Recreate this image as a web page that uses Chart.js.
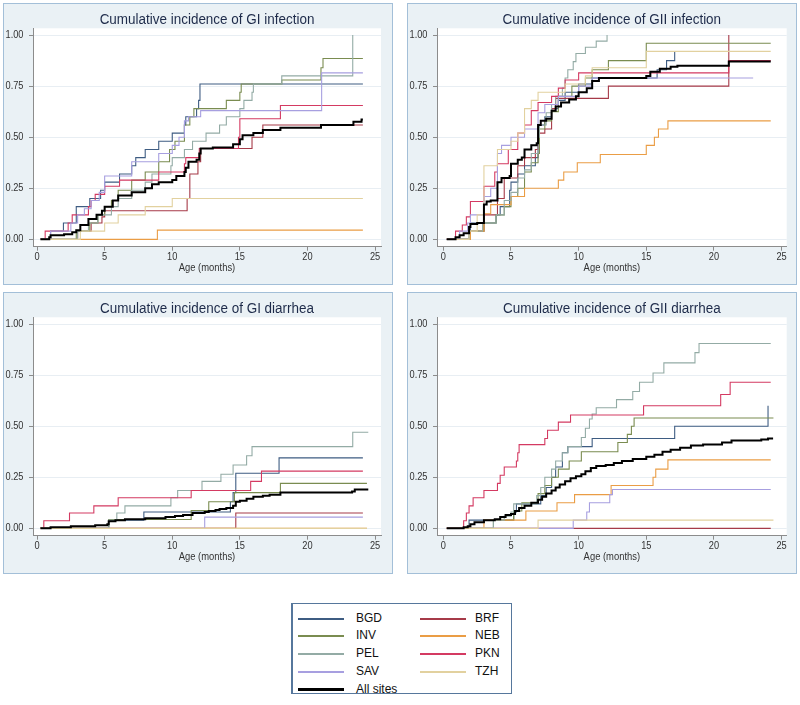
<!DOCTYPE html>
<html>
<head>
<meta charset="utf-8">
<script src="https://cdn.jsdelivr.net/npm/chart.js@4.4.1/dist/chart.umd.min.js"></script>
<style>
body { margin: 0; background: #fff; width: 800px; height: 705px; position: relative; overflow: hidden;
       font-family: "Liberation Sans", Arial, Helvetica, sans-serif; }
.panel { position: absolute; box-sizing: border-box; width: 390px; height: 282px;
         background: #eaf1f5; border: 1.5px solid #a3bfd8; }
canvas.plot { position: absolute; }
#legend { position: absolute; left: 291px; top: 603px; width: 221px; height: 91px; box-sizing: border-box;
          border: 1.5px solid #56779c; border-left-width: 2px; background: #fff; }
.lg-line { position: absolute; width: 46px; }
.lg-text { position: absolute; font-size: 12px; line-height: 14px; color: #111; }
</style>
</head>
<body>
<div id="legend"></div>
<script>
// Kaplan-Meier style cumulative incidence, 4 panels + shared legend

const ageTicks = [0, 5, 10, 15, 20, 25];
const incTicks = [0, 0.25, 0.5, 0.75, 1];
const ageAxisTitle = 'Age (months)';

const sites = ['BGD', 'BRF', 'INV', 'NEB', 'PEL', 'PKN', 'SAV', 'TZH', 'All sites'];
const siteColors = ['#3e5c82', '#a63a48', '#7a8c50', '#ea9d45', '#93aba5', '#d43a62', '#a79fe0', '#e2d19f', '#000000'];

const panelTitles = [
    'Cumulative incidence of GI infection',
    'Cumulative incidence of GII infection',
    'Cumulative incidence of GI diarrhea',
    'Cumulative incidence of GII diarrhea'
];

// each pair: [age in months, cumulative incidence from that age on]

// GI infection
const giInfBGD = [[0.25,0],[1.0,0.04],[1.95,0.08],[2.9,0.16],[3.9,0.20],[4.7,0.24],[5.0,0.28],[6.1,0.32],[7.0,0.36],[7.3,0.40],[8.0,0.44],[9.0,0.48],[10.0,0.52],[10.9,0.56],[11.0,0.60],[11.8,0.64],[11.95,0.68],[12.05,0.76],[24.1,0.76]];
const giInfBRF = [[0.25,0],[3.0,0.04],[4.0,0.08],[4.8,0.11],[5.0,0.14],[11.1,0.20],[11.3,0.32],[11.9,0.38],[12.1,0.445],[15.9,0.50],[16.7,0.56],[24.1,0.56]];
const giInfINV = [[0.25,0],[2.9,0.04],[3.9,0.08],[4.5,0.12],[5.0,0.16],[5.5,0.19],[6.0,0.24],[7.0,0.29],[8.0,0.33],[9.0,0.38],[9.8,0.44],[10.2,0.48],[10.9,0.56],[11.3,0.60],[11.6,0.64],[14.0,0.68],[15.0,0.72],[15.1,0.76],[18.1,0.78],[21.0,0.84],[21.15,0.885],[24.1,0.885]];
const giInfNEB = [[3.1,0],[8.9,0.045],[24.1,0.045]];
const giInfPEL = [[0.25,0],[3.0,0.04],[3.8,0.08],[4.5,0.12],[5.5,0.16],[6.0,0.20],[7.0,0.24],[8.0,0.28],[8.5,0.32],[9.9,0.36],[10.0,0.40],[10.9,0.44],[11.5,0.48],[12.5,0.52],[13.5,0.56],[14.0,0.60],[15.0,0.64],[15.3,0.68],[15.9,0.72],[16.0,0.76],[18.1,0.80],[23.35,1.0]];
const giInfPKN = [[0.25,0],[0.6,0.04],[2.3,0.08],[2.6,0.12],[3.8,0.16],[4.0,0.19],[4.3,0.22],[5.0,0.26],[6.1,0.29],[9.0,0.33],[10.9,0.37],[11.0,0.40],[12.0,0.445],[14.9,0.50],[15.0,0.59],[18.0,0.655],[24.1,0.655]];
const giInfSAV = [[0.25,0],[1.0,0.04],[2.5,0.08],[3.0,0.12],[3.5,0.15],[4.0,0.19],[4.6,0.23],[5.0,0.31],[7.0,0.38],[9.0,0.42],[10.0,0.46],[10.5,0.50],[10.9,0.58],[11.2,0.60],[12.1,0.63],[21.05,0.815],[24.1,0.815]];
const giInfTZH = [[0.25,0],[3.2,0.04],[5.0,0.08],[6.0,0.12],[8.0,0.16],[10.0,0.20],[24.1,0.20]];
const giInfAll = [[0.25,0],[0.9,0.01],[1.0,0.02],[2.0,0.025],[2.6,0.035],[2.9,0.045],[3.2,0.07],[3.8,0.10],[4.4,0.12],[4.8,0.14],[5.0,0.16],[5.6,0.19],[6.0,0.215],[7.0,0.23],[8.0,0.25],[8.5,0.27],[9.0,0.28],[10.0,0.29],[10.3,0.31],[10.9,0.33],[11.0,0.35],[11.2,0.38],[11.8,0.39],[12.0,0.42],[12.1,0.445],[13.0,0.45],[14.5,0.465],[15.0,0.49],[15.2,0.51],[16.0,0.52],[16.7,0.535],[18.0,0.546],[21.0,0.56],[23.4,0.576],[24.0,0.587],[24.1,0.587]];

// GII infection
const giiInfBGD = [[0.25,0],[1.9,0.04],[2.0,0.08],[3.9,0.12],[4.2,0.16],[4.9,0.24],[5.0,0.28],[5.5,0.32],[6.0,0.36],[6.8,0.40],[7.0,0.48],[7.1,0.56],[7.5,0.60],[8.0,0.64],[8.5,0.68],[9.0,0.72],[10.0,0.76],[11.0,0.79],[15.8,0.83],[16.5,0.875],[17.1,0.92]];
const giiInfBRF = [[0.25,0],[2.0,0.04],[3.0,0.12],[4.0,0.20],[4.5,0.30],[5.5,0.36],[6.0,0.40],[6.8,0.44],[7.0,0.52],[7.5,0.54],[8.0,0.64],[8.3,0.69],[12.2,0.75],[21.1,1.0]];
const giiInfINV = [[0.25,0],[2.0,0.04],[3.0,0.08],[3.9,0.12],[4.5,0.16],[5.0,0.21],[5.5,0.25],[6.0,0.33],[6.5,0.375],[7.0,0.42],[7.1,0.54],[7.5,0.58],[8.0,0.625],[8.5,0.70],[9.5,0.75],[10.5,0.79],[11.0,0.83],[12.2,0.875],[15.0,0.96],[24.2,0.96]];
const giiInfNEB = [[1.8,0],[2.0,0.04],[3.0,0.125],[3.5,0.17],[5.0,0.21],[6.0,0.25],[8.5,0.29],[8.9,0.33],[9.9,0.375],[11.6,0.415],[15.0,0.46],[15.6,0.50],[15.9,0.54],[16.6,0.58],[24.2,0.58]];
const giiInfPEL = [[0.25,0],[1.9,0.04],[2.9,0.08],[3.9,0.12],[4.5,0.19],[5.0,0.23],[5.5,0.30],[6.0,0.34],[6.5,0.42],[7.0,0.50],[7.1,0.56],[7.6,0.62],[8.0,0.66],[8.3,0.70],[8.8,0.74],[9.0,0.79],[9.2,0.83],[9.6,0.87],[9.8,0.91],[10.5,0.94],[11.3,0.97],[12.1,1.0]];
const giiInfPKN = [[0.25,0],[0.9,0.04],[1.4,0.07],[1.7,0.11],[2.0,0.185],[3.0,0.26],[3.8,0.33],[4.0,0.37],[4.8,0.44],[5.5,0.52],[6.0,0.56],[6.5,0.63],[7.0,0.67],[8.0,0.70],[8.5,0.74],[9.0,0.78],[10.0,0.815],[21.1,0.875],[24.2,0.875]];
const giiInfSAV = [[0.25,0],[1.2,0.04],[1.8,0.08],[2.0,0.12],[3.0,0.21],[3.5,0.25],[4.0,0.42],[4.3,0.46],[5.0,0.50],[6.0,0.54],[7.0,0.62],[7.5,0.66],[8.5,0.70],[10.0,0.75],[11.0,0.79],[22.9,0.79]];
const giiInfTZH = [[0.25,0],[1.9,0.04],[2.5,0.12],[3.0,0.36],[4.0,0.44],[5.0,0.48],[5.5,0.52],[6.0,0.64],[6.5,0.68],[7.0,0.72],[9.0,0.76],[10.5,0.80],[11.0,0.84],[15.0,0.92],[24.2,0.92]];
const giiInfAll = [[0.25,0],[0.9,0.01],[1.2,0.02],[1.5,0.03],[1.9,0.06],[2.0,0.075],[2.5,0.08],[3.0,0.17],[3.2,0.185],[3.5,0.19],[4.0,0.28],[4.3,0.30],[4.9,0.31],[5.0,0.37],[5.5,0.39],[5.8,0.40],[6.0,0.44],[6.5,0.46],[6.9,0.47],[7.0,0.56],[7.2,0.58],[7.6,0.59],[8.0,0.63],[8.3,0.65],[8.7,0.67],[9.3,0.685],[9.8,0.70],[10.0,0.72],[10.6,0.74],[11.0,0.775],[11.5,0.79],[15.0,0.80],[15.3,0.82],[16.0,0.835],[16.8,0.845],[17.3,0.85],[21.1,0.87],[24.2,0.87]];

// GI diarrhea
const giDiaBGD = [[0.25,0],[5.3,0.04],[7.9,0.08],[14.3,0.13],[14.5,0.175],[14.7,0.27],[17.9,0.345],[24.1,0.345]];
const giDiaBRF = [[0.25,0],[14.7,0.075],[24.1,0.075]];
const giDiaINV = [[0.25,0],[5.3,0.043],[11.4,0.087],[12.7,0.13],[14.6,0.175],[18.0,0.22],[24.4,0.22]];
const giDiaNEB = [[0.25,0],[24.4,0]];
const giDiaPEL = [[0.25,0],[5.3,0.04],[5.9,0.075],[6.5,0.11],[9.9,0.15],[10.4,0.185],[12.2,0.23],[13.6,0.265],[14.5,0.31],[15.5,0.355],[15.9,0.40],[23.35,0.47],[24.5,0.47]];
const giDiaPKN = [[0.25,0],[0.5,0.037],[2.4,0.075],[4.2,0.11],[6.0,0.15],[11.4,0.185],[15.8,0.23],[16.6,0.28],[24.1,0.28]];
const giDiaSAV = [[0.25,0],[12.4,0.055],[24.1,0.055]];
const giDiaTZH = [[0.25,0],[24.4,0]];
const giDiaAll = [[0.25,0],[1.0,0.005],[2.5,0.01],[4.3,0.015],[5.2,0.02],[5.3,0.035],[5.8,0.04],[6.5,0.045],[8.0,0.05],[9.5,0.055],[10.2,0.06],[10.8,0.065],[11.5,0.075],[12.4,0.08],[12.7,0.085],[13.2,0.09],[13.5,0.095],[14.0,0.10],[14.5,0.11],[14.7,0.13],[15.0,0.135],[15.5,0.145],[16.0,0.155],[16.7,0.16],[17.2,0.165],[18.0,0.175],[23.3,0.18],[23.5,0.19],[24.5,0.19]];

// GII diarrhea
const giiDiaBGD = [[0.25,0],[1.9,0.04],[5.2,0.08],[5.4,0.12],[7.2,0.16],[7.6,0.20],[8.0,0.25],[8.3,0.30],[8.8,0.37],[9.2,0.40],[11.0,0.44],[17.1,0.50],[24.0,0.60]];
const giiDiaBRF = [[0.25,0],[24.2,0]];
const giiDiaINV = [[0.25,0],[3.7,0.04],[5.2,0.085],[5.8,0.125],[7.0,0.17],[7.5,0.21],[8.0,0.25],[8.5,0.29],[9.3,0.33],[10.2,0.375],[12.9,0.42],[13.6,0.46],[13.9,0.50],[14.1,0.54],[24.4,0.54]];
const giiDiaNEB = [[0.25,0],[3.0,0.04],[6.1,0.085],[8.4,0.125],[9.7,0.165],[12.4,0.21],[15.5,0.25],[15.7,0.29],[16.6,0.335],[24.2,0.335]];
const giiDiaPEL = [[0.25,0],[3.7,0.04],[4.5,0.06],[5.0,0.08],[5.2,0.12],[6.9,0.16],[7.2,0.20],[7.5,0.25],[8.0,0.29],[8.3,0.33],[8.8,0.37],[9.2,0.40],[10.2,0.445],[10.5,0.49],[10.8,0.535],[11.0,0.56],[11.3,0.59],[12.8,0.63],[14.0,0.67],[14.5,0.715],[15.5,0.76],[16.3,0.81],[18.6,0.86],[18.9,0.905],[24.2,0.905]];
const giiDiaPKN = [[0.25,0],[1.5,0.037],[1.7,0.075],[1.9,0.11],[2.2,0.15],[3.0,0.185],[4.0,0.22],[4.2,0.26],[4.5,0.30],[5.4,0.33],[5.5,0.37],[5.6,0.41],[7.5,0.44],[7.7,0.48],[8.5,0.52],[9.4,0.555],[14.8,0.60],[20.5,0.655],[21.2,0.715],[24.2,0.715]];
const giiDiaSAV = [[0.25,0],[9.6,0.04],[10.6,0.08],[10.8,0.125],[12.3,0.165],[12.5,0.19],[24.2,0.19]];
const giiDiaTZH = [[0.25,0],[7.0,0.04],[24.4,0.04]];
const giiDiaAll = [[0.25,0],[1.5,0.005],[1.8,0.01],[2.0,0.02],[2.3,0.03],[3.0,0.04],[3.8,0.045],[4.2,0.055],[4.6,0.065],[5.0,0.07],[5.3,0.085],[5.6,0.10],[6.0,0.11],[6.5,0.125],[7.0,0.14],[7.3,0.155],[7.6,0.17],[8.0,0.185],[8.3,0.20],[8.6,0.215],[9.0,0.23],[9.4,0.245],[9.8,0.255],[10.2,0.265],[10.5,0.28],[10.9,0.295],[11.3,0.305],[12.0,0.31],[12.6,0.32],[13.2,0.33],[14.0,0.34],[15.0,0.35],[15.6,0.36],[16.2,0.375],[16.8,0.385],[17.5,0.395],[18.3,0.405],[19.2,0.41],[20.6,0.42],[21.3,0.43],[23.5,0.435],[24.0,0.44],[24.3,0.445]];

const panels = [
    { title: panelTitles[0], left: 3,   top: 3,   xMin: -0.30, xMax: 25.44, padRight: 12,
      series: [giInfBGD, giInfBRF, giInfINV, giInfNEB, giInfPEL, giInfPKN, giInfSAV, giInfTZH, giInfAll] },
    { title: panelTitles[1], left: 407, top: 3,   xMin: -0.47, xMax: 25.38, padRight: 10.3,
      series: [giiInfBGD, giiInfBRF, giiInfINV, giiInfNEB, giiInfPEL, giiInfPKN, giiInfSAV, giiInfTZH, giiInfAll] },
    { title: panelTitles[2], left: 3,   top: 292, xMin: -0.30, xMax: 25.44, padRight: 12,
      series: [giDiaBGD, giDiaBRF, giDiaINV, giDiaNEB, giDiaPEL, giDiaPKN, giDiaSAV, giDiaTZH, giDiaAll] },
    { title: panelTitles[3], left: 407, top: 292, xMin: -0.47, xMax: 25.38, padRight: 10.3,
      series: [giiDiaBGD, giiDiaBRF, giiDiaINV, giiDiaNEB, giiDiaPEL, giiDiaPKN, giiDiaSAV, giiDiaTZH, giiDiaAll] }
];

const FONT = '"Liberation Sans", Arial, Helvetica, sans-serif';
const PANEL_W = 390, PANEL_H = 282;
const SQUEEZE = 0.88;   // the original's text is narrower than Arial

// white plot region like Stata's plotregion
const plotBackground = {
    id: 'plotBackground',
    beforeDraw(chart) {
        const { ctx, chartArea: a } = chart;
        ctx.save();
        ctx.fillStyle = '#ffffff';
        ctx.fillRect(a.left, a.top, a.right - a.left, a.bottom - a.top);
        ctx.restore();
    }
};

// title, tick labels and axis title, drawn slightly condensed
function makeTextPlugin(title) {
    return {
        id: 'stataText',
        afterDraw(chart) {
            const { ctx, chartArea: a, scales: { x, y } } = chart;
            const mid = (a.left + a.right) / 2;
            ctx.save();
            ctx.scale(SQUEEZE, 1);
            ctx.textBaseline = 'middle';
            ctx.textAlign = 'center';
            ctx.fillStyle = '#1e2b4a';
            ctx.font = '15.3px ' + FONT;
            ctx.fillText(title, mid / SQUEEZE, 17);

            ctx.fillStyle = '#333';
            ctx.font = '10.5px ' + FONT;
            ctx.textAlign = 'right';
            incTicks.forEach(v => ctx.fillText(v.toFixed(2), (a.left - 9.5) / SQUEEZE, y.getPixelForValue(v)));
            ctx.textAlign = 'center';
            ageTicks.forEach(v => ctx.fillText(String(v), x.getPixelForValue(v) / SQUEEZE, a.bottom + 10.8));
            ctx.font = '10.7px ' + FONT;
            ctx.fillText(ageAxisTitle, mid / SQUEEZE, a.bottom + 21.5);
            ctx.restore();
        }
    };
}

panels.forEach(p => {
    const box = document.createElement('div');
    box.className = 'panel';
    box.style.left = p.left + 'px';
    box.style.top = p.top + 'px';
    document.body.appendChild(box);

    const cv = document.createElement('canvas');
    cv.className = 'plot';
    cv.width = PANEL_W;
    cv.height = PANEL_H;
    cv.style.left = p.left + 'px';
    cv.style.top = p.top + 'px';
    document.body.appendChild(cv);

    const datasets = sites.map((site, k) => ({
        label: site,
        data: p.series[k].map(([x, y]) => ({ x, y })),
        borderColor: siteColors[k],
        borderWidth: k === sites.length - 1 ? 2 : 1.1,
        pointRadius: 0,
        stepped: true,
        fill: false,
        order: sites.length - k   // later sites drawn on top, "All sites" last
    }));

    new Chart(cv.getContext('2d'), {
        type: 'line',
        data: { datasets },
        plugins: [plotBackground, makeTextPlugin(p.title)],
        options: {
            responsive: false,
            animation: false,
            events: [],
            layout: { padding: { top: 25.3, left: 0, right: p.padRight, bottom: 0 } },
            plugins: {
                legend: { display: false },
                tooltip: { enabled: false },
                title: { display: false }
            },
            scales: {
                x: {
                    type: 'linear',
                    min: p.xMin,
                    max: p.xMax,
                    afterBuildTicks: s => { s.ticks = ageTicks.map(v => ({ value: v })); },
                    afterFit: s => { s.height = 38.3; },
                    ticks: { display: false },
                    grid: { drawOnChartArea: false, tickLength: 4, tickColor: '#8c8c8c' },
                    border: { color: '#8c8c8c', width: 1 }
                },
                y: {
                    type: 'linear',
                    min: -0.036,
                    max: 1.033,
                    afterBuildTicks: s => { s.ticks = incTicks.map(v => ({ value: v })); },
                    afterFit: s => { s.width = 30; },
                    ticks: { display: false },
                    grid: { color: '#e8eef3', tickLength: 4, tickColor: '#8c8c8c' },
                    border: { color: '#8c8c8c', width: 1 }
                }
            }
        }
    });
});

// shared legend, filled row by row like the original (two columns)
const legend = document.getElementById('legend');
sites.forEach((site, k) => {
    const col = k % 2, row = Math.floor(k / 2);
    const cy = Math.round(617.5 + row * 17.9) - 603;     // row centre inside the box
    const isAll = k === sites.length - 1;
    const line = document.createElement('div');
    line.className = 'lg-line';
    line.style.left = (col ? 420 : 298) - 291 - 2 + 'px';
    line.style.top = (cy - (isAll ? 2 : 1)) + 'px';
    line.style.height = (isAll ? 3 : 2) + 'px';
    line.style.background = siteColors[k];
    legend.appendChild(line);
    const txt = document.createElement('div');
    txt.className = 'lg-text';
    txt.textContent = site;
    txt.style.left = (col ? 475 : 356) - 291 - 2 + 'px';
    txt.style.top = (cy - 7 - 1.5) + 'px';
    legend.appendChild(txt);
});
</script>
</body>
</html>
